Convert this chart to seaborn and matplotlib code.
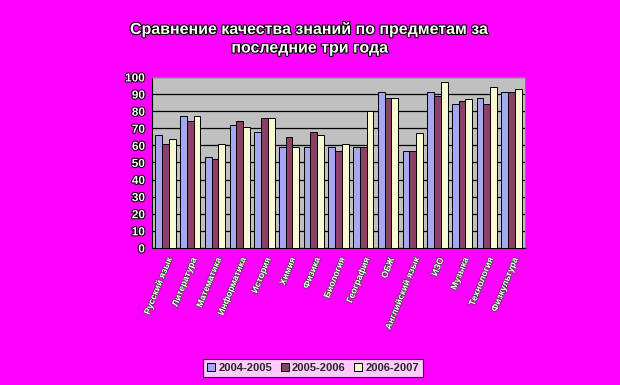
import pandas as pd
import numpy as np
import matplotlib
matplotlib.use('Agg')
import matplotlib.pyplot as plt
import matplotlib.patheffects as pe
import seaborn as sns

# ── Data ──
SUBJECTS = ['Русский язык', 'Литература', 'Математика', 'Информатика', 'История',
            'Химия', 'Физика', 'Биология', 'География', 'ОБЖ',
            'Английский язык', 'ИЗО', 'Музыка', 'Технология', 'Физкультура']
YEARS = ['2004-2005', '2005-2006', '2006-2007']
Y2004 = [66, 77, 53, 72, 68, 59, 59, 59, 59, 91, 57, 91, 84, 88, 91]
Y2005 = [61, 74, 52, 74, 76, 65, 68, 57, 59, 88, 57, 89, 86, 84, 91]
Y2006 = [64, 77, 61, 71, 76, 59, 66, 61, 80, 88, 67, 97, 87, 94, 93]
COLORS = ['#9999FF', '#993366', '#FFFFCC']

df = pd.DataFrame({
    'subject': SUBJECTS * 3,
    'year': [y for y in YEARS for _ in SUBJECTS],
    'value': Y2004 + Y2005 + Y2006,
})

sns.set_style('white')
plt.rcParams['font.family'] = ['Liberation Sans', 'DejaVu Sans']

BG = '#FF00FF'
fig = plt.figure(figsize=(6.2, 3.85), dpi=100, facecolor=BG)
ax = fig.add_axes([0.245, 0.356, 0.602, 0.444])
ax.set_facecolor('#C0C0C0')

sns.barplot(data=df, x='subject', y='value', hue='year', palette=COLORS,
            edgecolor='black', linewidth=0.7, width=0.82, ax=ax, zorder=3)

ax.set_ylim(0, 100)
ax.set_yticks(np.arange(0, 101, 10))
ax.yaxis.grid(True, color='black', linewidth=0.9, zorder=0)
ax.set_axisbelow(True)
ax.set_xlabel('')
ax.set_ylabel('')
for s in ['top', 'right']:
    ax.spines[s].set_color('#808080')
for s in ['left', 'bottom']:
    ax.spines[s].set_color('black')

ax.tick_params(axis='y', length=3, color='black', pad=2)
for lab in ax.get_yticklabels():
    lab.set_color('white')
    lab.set_fontweight('bold')
    lab.set_fontsize(8.5)
    lab.set_path_effects([pe.withStroke(linewidth=1.5, foreground='black')])

ax.set_xticks(range(len(SUBJECTS)))
ax.set_xticklabels(SUBJECTS, rotation=68, ha='right', rotation_mode='anchor',
                   fontsize=6.5, color='white', fontweight='bold')
for lab in ax.get_xticklabels():
    lab.set_path_effects([pe.withStroke(linewidth=1.0, foreground='#404040')])
ax.tick_params(axis='x', length=0, pad=6)
ax.set_xlim(-0.55, len(SUBJECTS) - 0.45)

fig.text(0.5, 0.9, 'Сравнение качества знаний по предметам за\nпоследние три года',
         ha='center', va='center', fontsize=11.5, fontweight='bold', color='white',
         linespacing=1.3,
         path_effects=[pe.withStroke(linewidth=1.6, foreground='black')])

leg = ax.legend(loc='center', bbox_to_anchor=(0.505, 0.044), bbox_transform=fig.transFigure,
                ncol=3, frameon=True, fontsize=8, handlelength=0.7, handleheight=0.7,
                handletextpad=0.3, columnspacing=0.8, borderpad=0.35, fancybox=False)
leg.get_frame().set_edgecolor('black')
leg.get_frame().set_linewidth(0.8)
for t in leg.get_texts():
    t.set_fontweight('bold')

fig.savefig('out.png', dpi=100, facecolor=BG)
